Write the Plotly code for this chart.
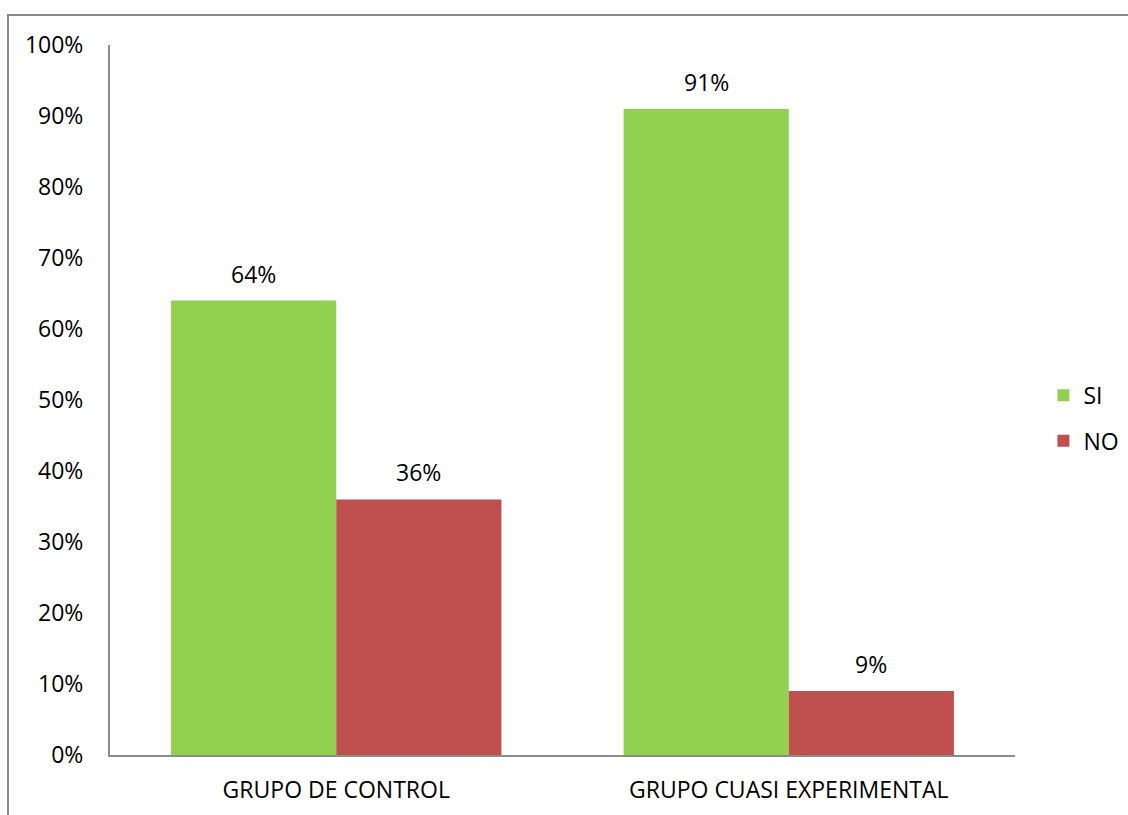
import plotly.graph_objects as go

categories = ["GRUPO DE CONTROL", "GRUPO CUASI EXPERIMENTAL"]
si_values = [0.64, 0.91]
no_values = [0.36, 0.09]
series_names = ["SI", "NO"]
tick_vals = [0, 0.1, 0.2, 0.3, 0.4, 0.5, 0.6, 0.7, 0.8, 0.9, 1.0]
tick_text = ["0%", "10%", "20%", "30%", "40%", "50%", "60%", "70%", "80%", "90%", "100%"]

FONT = "Open Sans, Carlito, Calibri, sans-serif"
FSIZE = 23
AXIS_GRAY = "#8c8c8c"
BAR_HALF = 82.5  # pixel offset of each bar centre from its category centre

fig = go.Figure()
series = [(series_names[0], si_values, "#92D050", "legend", -BAR_HALF),
          (series_names[1], no_values, "#C0504D", "legend2", BAR_HALF)]
for name, vals, color, leg, shift in series:
    fig.add_trace(go.Bar(
        x=categories, y=vals, name=name, legend=leg,
        marker=dict(color=color, line=dict(width=0)),
    ))
    # value labels above each bar
    for cat, v in zip(categories, vals):
        fig.add_annotation(
            x=cat, y=v, xref="x", yref="y",
            text=f"{round(v * 100)}%", showarrow=False,
            xshift=shift, yshift=9, yanchor="bottom",
            font=dict(size=FSIZE, color="#000000", family=FONT),
        )

legend_common = dict(
    xref="container", yref="container",
    x=0.925, xanchor="left", yanchor="middle",
    font=dict(size=FSIZE, family=FONT),
    itemwidth=30, bgcolor="rgba(0,0,0,0)",
)

fig.update_layout(
    width=1128, height=815,
    barmode="group", bargap=0.27, bargroupgap=0,
    plot_bgcolor="white", paper_bgcolor="white",
    margin=dict(l=110, r=113, t=45, b=60, autoexpand=False),
    font=dict(family=FONT, size=FSIZE, color="#000000"),
    showlegend=True,
    legend=dict(y=0.515, **legend_common),
    legend2=dict(y=0.459, **legend_common),
    xaxis=dict(
        showline=True, linecolor=AXIS_GRAY, linewidth=2,
        showgrid=False, ticks="", ticklabelstandoff=13,
        tickfont=dict(size=FSIZE, family=FONT),
    ),
    yaxis=dict(
        range=[0, 1.0], tickvals=tick_vals, ticktext=tick_text,
        showline=True, linecolor=AXIS_GRAY, linewidth=2,
        showgrid=False, zeroline=False, ticks="", ticklabelstandoff=20,
        tickfont=dict(size=FSIZE, family=FONT),
    ),
    shapes=[dict(
        type="rect", xref="paper", yref="paper",
        x0=-0.1127, x1=1.2, y0=-0.2, y1=1.0423,
        line=dict(color="#8a8a8a", width=2), layer="below",
    )],
)

fig.write_html("out.html")
